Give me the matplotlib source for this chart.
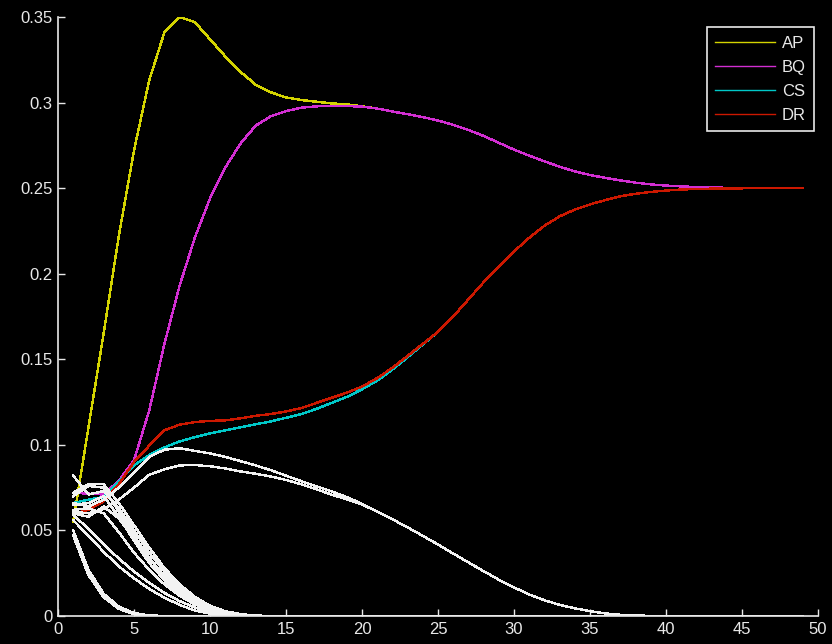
import matplotlib
matplotlib.use('Agg')
import matplotlib.pyplot as plt
from matplotlib.ticker import FuncFormatter

# time steps
x = list(range(1, 50))

# coloured series
ap = [0.055, 0.110, 0.165, 0.222, 0.272, 0.313, 0.341, 0.350, 0.347, 0.337,
      0.327, 0.318, 0.3105, 0.306, 0.303, 0.3015, 0.3005, 0.2995, 0.299, 0.2978,
      0.2965, 0.2948, 0.2932, 0.2915, 0.2895, 0.287, 0.284, 0.2805, 0.2765, 0.2725,
      0.269, 0.2657, 0.2625, 0.2598, 0.2577, 0.256, 0.2545, 0.2532, 0.2522, 0.2515,
      0.251, 0.2507, 0.2504, 0.2502, 0.2501, 0.25, 0.25, 0.25, 0.25]
bq = [0.072, 0.0715, 0.071, 0.079, 0.091, 0.120, 0.159, 0.193, 0.221, 0.244,
      0.262, 0.276, 0.2865, 0.292, 0.295, 0.297, 0.2978, 0.298, 0.298, 0.2976,
      0.2965, 0.2948, 0.2932, 0.2915, 0.2895, 0.287, 0.284, 0.2805, 0.2765, 0.2725,
      0.269, 0.2657, 0.2625, 0.2598, 0.2577, 0.256, 0.2545, 0.2532, 0.2522, 0.2515,
      0.251, 0.2507, 0.2504, 0.2502, 0.2501, 0.25, 0.25, 0.25, 0.25]
cs = [0.066, 0.068, 0.0695, 0.0785, 0.088, 0.094, 0.0985, 0.102, 0.1045, 0.1067,
      0.1085, 0.1103, 0.112, 0.1137, 0.1158, 0.118, 0.121, 0.1245, 0.128, 0.1325,
      0.1375, 0.144, 0.1512, 0.1586, 0.166, 0.175, 0.185, 0.195, 0.204, 0.213,
      0.221, 0.228, 0.2335, 0.2375, 0.2405, 0.243, 0.2453, 0.2467, 0.2478, 0.2486,
      0.2492, 0.2495, 0.2497, 0.2498, 0.2499, 0.25, 0.25, 0.25, 0.25]
dr = [0.0598, 0.062, 0.067, 0.077, 0.090, 0.0995, 0.1085, 0.1118, 0.1133, 0.114,
      0.1143, 0.1155, 0.117, 0.118, 0.1195, 0.1215, 0.1245, 0.1275, 0.1305, 0.134,
      0.139, 0.145, 0.152, 0.159, 0.166, 0.175, 0.185, 0.195, 0.204, 0.213,
      0.221, 0.228, 0.2335, 0.2375, 0.2405, 0.243, 0.2453, 0.2467, 0.2478, 0.2486,
      0.2492, 0.2495, 0.2497, 0.2498, 0.2499, 0.25, 0.25, 0.25, 0.25]

# white series (values after the listed ones are zero)
w_hi = [0.066, 0.064, 0.068, 0.075, 0.084, 0.093, 0.0972, 0.098, 0.0965, 0.095,
        0.093, 0.0905, 0.088, 0.0852, 0.082, 0.0788, 0.0758, 0.0728, 0.0695, 0.0655,
        0.061, 0.0565, 0.0518, 0.0468, 0.0418, 0.0365, 0.0313, 0.0262, 0.0212, 0.0167,
        0.0126, 0.0092, 0.0065, 0.0045, 0.0028, 0.0015, 0.0007, 0.0003, 0.0001]
w_lo = [0.061, 0.060, 0.0625, 0.068, 0.075, 0.0825, 0.0857, 0.088, 0.0882, 0.0875,
        0.0862, 0.0845, 0.0831, 0.0815, 0.0795, 0.077, 0.0741, 0.0709, 0.0682, 0.0652,
        0.061, 0.0565, 0.0518, 0.0468, 0.0418, 0.0365, 0.0313, 0.0262, 0.0212, 0.0167,
        0.0126, 0.0092, 0.0065, 0.0045, 0.0028, 0.0015, 0.0007, 0.0003, 0.0001]
w_fast1 = [0.050, 0.027, 0.013, 0.0055, 0.0017, 0.0004]
w_fast2 = [0.047, 0.024, 0.011, 0.0042, 0.0011, 0.0002]
w_a = [0.056, 0.047, 0.0375, 0.029, 0.022, 0.0158, 0.0107, 0.0065, 0.0032, 0.0014, 0.0005, 0.0001]
w_b = [0.059, 0.051, 0.042, 0.0335, 0.026, 0.0193, 0.0135, 0.0087, 0.005, 0.0024, 0.001, 0.0003]
w_c = [0.062, 0.063, 0.060, 0.049, 0.037, 0.027, 0.0185, 0.0118, 0.0068, 0.0035, 0.0015, 0.0005, 0.0001]
w_d = [0.065, 0.066, 0.070, 0.058, 0.044, 0.031, 0.021, 0.013, 0.0075, 0.0039, 0.0017, 0.0006, 0.0001]
w_e = [0.070, 0.076, 0.075, 0.061, 0.047, 0.034, 0.023, 0.0145, 0.0085, 0.0045, 0.002, 0.0008, 0.0002]
w_f = [0.082, 0.071, 0.073, 0.063, 0.050, 0.037, 0.026, 0.017, 0.0102, 0.0055, 0.0026, 0.001, 0.0003]
w_g = [0.060, 0.058, 0.064, 0.057, 0.045, 0.0335, 0.0235, 0.0155, 0.0093, 0.005, 0.0023, 0.0009, 0.0002]
w_h = [0.072, 0.077, 0.077, 0.066, 0.053, 0.040, 0.028, 0.0185, 0.0112, 0.006, 0.0028, 0.0011, 0.0003]

labels = ['AP', 'BQ', 'CS', 'DR']
colors = ['#d4d400', '#d22ed2', '#00c8c8', '#cc1800']

plt.rcParams['font.family'] = ['Liberation Sans', 'DejaVu Sans']

fig = plt.figure(figsize=(8.32, 6.44), dpi=100, facecolor='black')
ax = fig.add_axes([58 / 832, 28 / 644, 760 / 832, 599 / 644])
ax.set_facecolor('black')

for ys, c, lab in zip([ap, bq, cs, dr], colors, labels):
    ax.plot(x, ys, color=c, lw=1.0, label=lab, antialiased=False)

whites = [w_hi, w_lo, w_fast1, w_fast2, w_a, w_b, w_c, w_d, w_e, w_f, w_g, w_h]
for ys in whites:
    full = ys + [0.0] * (len(x) - len(ys))
    ax.plot(x, full, color='#f2f2f2', lw=1.0, antialiased=False)

ax.set_xlim(0, 50)
ax.set_ylim(0, 0.35)
ax.set_xticks(range(0, 51, 5))
ax.set_yticks([0, 0.05, 0.1, 0.15, 0.2, 0.25, 0.3, 0.35])
ax.yaxis.set_major_formatter(FuncFormatter(lambda v, p: '%g' % round(v, 2)))
ax.xaxis.set_major_formatter(FuncFormatter(lambda v, p: '%g' % v))

for side in ['top', 'right']:
    ax.spines[side].set_visible(False)
for side in ['left', 'bottom']:
    ax.spines[side].set_color('#e8e8e8')
    ax.spines[side].set_linewidth(1.2)
ax.tick_params(direction='in', length=5, width=1, colors='#e8e8e8',
               labelsize=12, pad=4)

leg = ax.legend(loc='upper right', bbox_to_anchor=(0.995, 0.983), borderaxespad=0,
                fancybox=False, facecolor='black', edgecolor='#e8e8e8',
                framealpha=1, fontsize=12, handlelength=3.6, labelspacing=0.55,
                handletextpad=0.4, borderpad=0.5)
leg.get_frame().set_linewidth(1.2)
for t in leg.get_texts():
    t.set_color('#e8e8e8')

fig.savefig('out.png', dpi=100, facecolor='black')
